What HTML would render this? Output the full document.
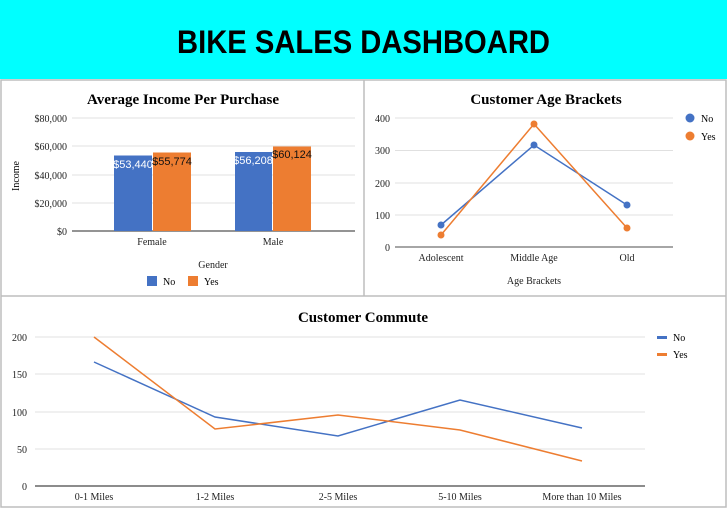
<!DOCTYPE html>
<html><head><meta charset="utf-8"><style>
body{margin:0;width:727px;height:508px;overflow:hidden;background:#fff;font-family:"Liberation Serif",serif}
</style></head><body>
<svg width="727" height="508" viewBox="0 0 727 508" xmlns="http://www.w3.org/2000/svg" font-family="Liberation Serif, serif">
<rect x="0" y="0" width="727" height="79" fill="#00ffff"/>
<text x="363.5" y="53" text-anchor="middle" font-family="Liberation Sans, sans-serif" font-weight="bold" font-size="32" textLength="373" lengthAdjust="spacingAndGlyphs">BIKE SALES DASHBOARD</text>
<rect x="0" y="79" width="727" height="429" fill="#fff"/>
<g stroke="#bdbdbd" stroke-width="1.5" fill="none">
<rect x="1" y="80" width="725" height="427"/>
<line x1="364" y1="80" x2="364" y2="296"/>
<line x1="1" y1="296" x2="726" y2="296"/>
</g>
<text x="183" y="104" text-anchor="middle" font-weight="bold" font-size="15">Average Income Per Purchase</text>
<g stroke="#e0e0e0" stroke-width="1">
<line x1="72" y1="118" x2="355" y2="118"/><line x1="72" y1="146" x2="355" y2="146"/><line x1="72" y1="175" x2="355" y2="175"/><line x1="72" y1="203" x2="355" y2="203"/>
</g>
<line x1="72" y1="231" x2="355" y2="231" stroke="#555" stroke-width="1.2"/>
<g font-size="10" text-anchor="end" fill="#222">
<text x="67" y="122">$80,000</text><text x="67" y="150">$60,000</text><text x="67" y="179">$40,000</text><text x="67" y="207">$20,000</text><text x="67" y="235">$0</text>
</g>
<text transform="translate(19,176) rotate(-90)" text-anchor="middle" font-size="10">Income</text>
<rect x="114" y="155.5" width="38" height="75.5" fill="#4472c4"/>
<rect x="153" y="152.5" width="38" height="78.5" fill="#ed7d31"/>
<rect x="235" y="152" width="37" height="79" fill="#4472c4"/>
<rect x="273" y="146.5" width="38" height="84.5" fill="#ed7d31"/>
<g font-family="Liberation Sans, sans-serif" font-size="11">
<text x="133" y="168" text-anchor="middle" fill="#fff">$53,440</text>
<text x="172" y="165" text-anchor="middle" fill="#111">$55,774</text>
<text x="253" y="164" text-anchor="middle" fill="#fff">$56,208</text>
<text x="292" y="158" text-anchor="middle" fill="#111">$60,124</text>
</g>
<g font-size="10" text-anchor="middle" fill="#222">
<text x="152" y="245">Female</text><text x="273" y="245">Male</text>
<text x="213" y="268">Gender</text>
</g>
<rect x="147" y="276" width="10" height="10" fill="#4472c4"/><text x="163" y="285" font-size="10">No</text>
<rect x="188" y="276" width="10" height="10" fill="#ed7d31"/><text x="204" y="285" font-size="10">Yes</text>
<text x="546" y="104" text-anchor="middle" font-weight="bold" font-size="15">Customer Age Brackets</text>
<g stroke="#e0e0e0" stroke-width="1">
<line x1="395" y1="118" x2="673" y2="118"/><line x1="395" y1="150.5" x2="673" y2="150.5"/><line x1="395" y1="183" x2="673" y2="183"/><line x1="395" y1="215" x2="673" y2="215"/>
</g>
<line x1="395" y1="247" x2="673" y2="247" stroke="#888" stroke-width="1.5"/>
<g font-size="10" text-anchor="end" fill="#222">
<text x="390" y="122">400</text><text x="390" y="154">300</text><text x="390" y="187">200</text><text x="390" y="219">100</text><text x="390" y="251">0</text>
</g>
<polyline points="441,225 534,145 627,205" fill="none" stroke="#4472c4" stroke-width="1.5"/>
<polyline points="441,235 534,124 627,228" fill="none" stroke="#ed7d31" stroke-width="1.5"/>
<g fill="#4472c4"><circle cx="441" cy="225" r="3.5"/><circle cx="534" cy="145" r="3.5"/><circle cx="627" cy="205" r="3.5"/></g>
<g fill="#ed7d31"><circle cx="441" cy="235" r="3.5"/><circle cx="534" cy="124" r="3.5"/><circle cx="627" cy="228" r="3.5"/></g>
<g font-size="10" text-anchor="middle" fill="#222">
<text x="441" y="261">Adolescent</text><text x="534" y="261">Middle Age</text><text x="627" y="261">Old</text>
<text x="534" y="284">Age Brackets</text>
</g>
<circle cx="690" cy="118" r="4.5" fill="#4472c4"/><text x="701" y="122" font-size="10">No</text>
<circle cx="690" cy="136" r="4.5" fill="#ed7d31"/><text x="701" y="140" font-size="10">Yes</text>
<text x="363" y="322" text-anchor="middle" font-weight="bold" font-size="15">Customer Commute</text>
<g stroke="#e0e0e0" stroke-width="1">
<line x1="35" y1="337" x2="645" y2="337"/><line x1="35" y1="374" x2="645" y2="374"/><line x1="35" y1="412" x2="645" y2="412"/><line x1="35" y1="449" x2="645" y2="449"/>
</g>
<line x1="35" y1="486" x2="645" y2="486" stroke="#666" stroke-width="1.5"/>
<g font-size="10" text-anchor="end" fill="#222">
<text x="27" y="341">200</text><text x="27" y="378">150</text><text x="27" y="416">100</text><text x="27" y="453">50</text><text x="27" y="490">0</text>
</g>
<polyline points="94,362 215,417 338,436 460,400 582,428" fill="none" stroke="#4472c4" stroke-width="1.5"/>
<polyline points="94,337 215,429 338,415 460,430 582,461" fill="none" stroke="#ed7d31" stroke-width="1.5"/>
<g font-size="10" text-anchor="middle" fill="#222">
<text x="94" y="500">0-1 Miles</text><text x="215" y="500">1-2 Miles</text><text x="338" y="500">2-5 Miles</text><text x="460" y="500">5-10 Miles</text><text x="582" y="500">More than 10 Miles</text>
</g>
<rect x="657" y="336" width="10" height="3" fill="#4472c4"/><text x="673" y="341" font-size="10">No</text>
<rect x="657" y="353" width="10" height="3" fill="#ed7d31"/><text x="673" y="358" font-size="10">Yes</text>
</svg>
</body></html>
